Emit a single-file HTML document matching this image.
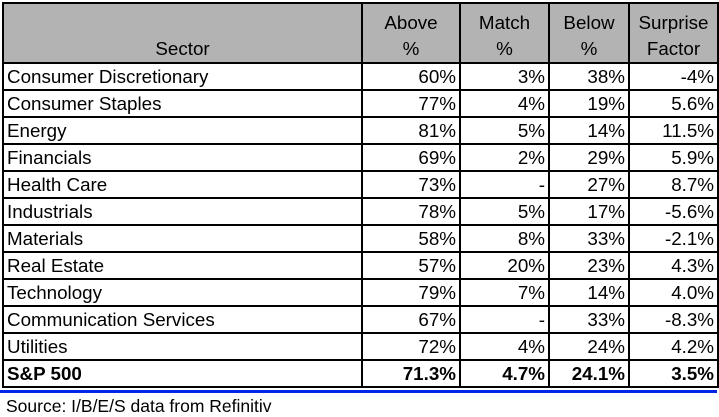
<!DOCTYPE html>
<html><head><meta charset="utf-8"><style>
body{margin:0;width:719px;height:416px;background:#fff;font-family:"Liberation Sans",Arial,sans-serif;overflow:hidden;position:relative}
table{position:absolute;left:2px;top:2px;border-collapse:collapse;font-size:18.8px;color:#000;table-layout:fixed}
td,th{border:2px solid #000;padding:0 3px;height:25px;line-height:25px;font-weight:normal;white-space:nowrap;overflow:hidden}
th{background:#b3b3b3;text-align:center;vertical-align:bottom;height:58px;line-height:26px}
td.n{text-align:right}
td.s{text-align:left}
tr.tot td{font-weight:bold}
#blue{position:absolute;left:0;top:390px;width:717px;height:3px;background:#0026e8}
#src{position:absolute;left:6px;top:396px;font-size:17.5px}
</style></head><body>
<table>
<colgroup><col style="width:359px"><col style="width:98px"><col style="width:89px"><col style="width:80px"><col style="width:89px"></colgroup>
<thead><tr>
<th>Sector</th>
<th>Above<br>%</th>
<th>Match<br>%</th>
<th>Below<br>%</th>
<th>Surprise<br>Factor</th>
</tr></thead>
<tbody id="tb"></tbody>
</table>
<div id="blue"></div>
<div id="src">Source: I/B/E/S data from Refinitiv</div>
<script>
const sectors=["Consumer Discretionary","Consumer Staples","Energy","Financials","Health Care","Industrials","Materials","Real Estate","Technology","Communication Services","Utilities","S&P 500"];
const above=["60%","77%","81%","69%","73%","78%","58%","57%","79%","67%","72%","71.3%"];
const match=["3%","4%","5%","2%","-","5%","8%","20%","7%","-","4%","4.7%"];
const below=["38%","19%","14%","29%","27%","17%","33%","23%","14%","33%","24%","24.1%"];
const surprise=["-4%","5.6%","11.5%","5.9%","8.7%","-5.6%","-2.1%","4.3%","4.0%","-8.3%","4.2%","3.5%"];
const tb=document.getElementById('tb');
sectors.forEach((s,i)=>{
  const tr=document.createElement('tr');
  
  
  if(i===sectors.length-1)tr.className='tot';
  [[s,'s','sector'],[above[i],'n','above'],[match[i],'n','match'],[below[i],'n','below'],[surprise[i],'n','surprise']].forEach(c=>{
    const td=document.createElement('td');
    td.textContent=c[0];td.className=c[1];
    
    
    tr.appendChild(td);
  });
  tb.appendChild(tr);
});
</script>
</body></html>
